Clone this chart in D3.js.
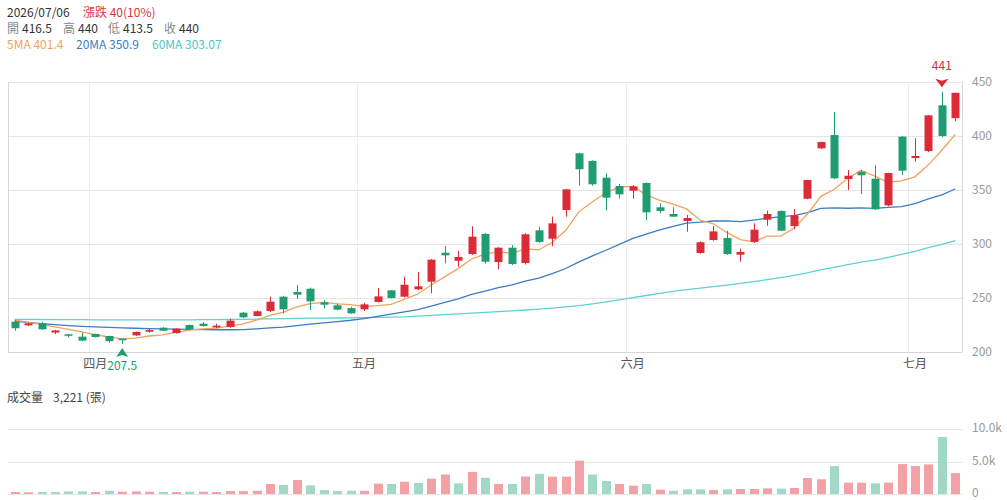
<!DOCTYPE html>
<html><head><meta charset="utf-8">
<script src="https://cdn.jsdelivr.net/npm/d3@7"></script>
<style>
body{margin:0;background:#fff;}
svg{display:block;font-family:"Noto Sans CJK TC","Noto Sans",sans-serif;}
</style>
</head><body>
<svg id="c" width="1007" height="500"></svg>
<script>
// ---------- data ----------
const dates = ["2026/03/24","2026/03/25","2026/03/26","2026/03/27","2026/03/30","2026/03/31",
"2026/04/01","2026/04/02","2026/04/07","2026/04/08","2026/04/09","2026/04/10","2026/04/13","2026/04/14","2026/04/15","2026/04/16","2026/04/17","2026/04/20","2026/04/21","2026/04/22","2026/04/23","2026/04/24","2026/04/27","2026/04/28","2026/04/29","2026/04/30",
"2026/05/04","2026/05/05","2026/05/06","2026/05/07","2026/05/08","2026/05/11","2026/05/12","2026/05/13","2026/05/14","2026/05/15","2026/05/18","2026/05/19","2026/05/20","2026/05/21","2026/05/22","2026/05/25","2026/05/26","2026/05/27","2026/05/28","2026/05/29",
"2026/06/01","2026/06/02","2026/06/03","2026/06/04","2026/06/05","2026/06/08","2026/06/09","2026/06/10","2026/06/11","2026/06/12","2026/06/15","2026/06/16","2026/06/17","2026/06/18","2026/06/22","2026/06/23","2026/06/24","2026/06/25","2026/06/26","2026/06/29","2026/06/30",
"2026/07/01","2026/07/02","2026/07/03","2026/07/06"];
const monthNames = {"04":"四月","05":"五月","06":"六月","07":"七月"};

const open  = [228,224.7,226.6,218,216.4,214.2,216.7,214.8,212.3,215.4,218.8,222.5,217.6,225,226.2,222.8,223.1,236.4,233.3,238,251.2,255.6,258.6,246,243.2,240.7,239.5,246.3,257.1,251.2,258,265.1,291.9,284.5,290.7,309.3,283.3,296.6,282.4,312.7,304.9,331.5,384,376.9,361.4,353.7,349.4,356.5,334,327.8,321.3,291.7,303.7,305.6,290.1,301.9,322.5,330.6,316.7,341.9,388.6,400.9,360.2,366.9,360.5,335.8,399.4,379.6,386.1,428.4,416.5];
const high  = [229.6,227,228,220.5,216.6,218,217,215,212.5,219,221.5,223,222,225.5,227.8,226.2,230.9,237,238.5,251.2,252,262,259.6,248.1,244.7,242,245.7,259.3,257.5,269.7,274.1,286,298.1,293.5,316.4,310,297,299,310,316,325.3,351,384.5,377.5,365.4,355.6,354.5,357,337.7,334,326.9,302.5,316.7,312.3,295.7,319.1,330.9,331,332.4,359.5,394.8,422.2,368.5,368.5,372.8,366,400,398.1,419.5,441,440];
const low   = [219.7,224,220.5,216.4,213.3,210,213.5,208.6,207.5,215,217.9,219.5,217,220.5,223.5,222,222.5,231.5,233,237,235.8,249.4,238.9,240.4,238.5,235.5,238,246,249.5,250.5,257.5,254.3,282.1,279,290,282,276.6,280.5,281,301,298.1,325.3,354,354,331.2,342,341.9,322.2,328.4,325,311.4,291,303,290,283.6,301,316.9,312,313.6,341.5,388,360,350,346.3,331.5,335,363.9,376.2,385,399,413.5];
const close = [222,226.6,221,220,215.2,210.5,213.9,210,211,218.5,220.4,219.7,221.6,221,224.1,224.4,229,232.1,237.7,246.6,239.5,253.1,246.9,243.8,239.2,235.8,244.1,251.5,250,262.3,260.8,285.5,289.5,288,306.8,283.6,296.6,281.5,309,301.9,319.1,350.6,369.2,355.3,342.9,346,353.4,329.3,330.6,325.3,324.1,301.6,311.7,290.7,292.6,313.3,327.8,312.3,326.5,359.3,394.4,360.8,363.2,363.6,332.1,365.7,367.9,381.5,419.1,400,440];
const volume = [300,270,300,300,400,400,300,500,350,400,350,300,300,350,350,300,450,450,500,1540,1380,2150,1330,600,450,500,500,1600,1540,1900,1700,2360,3000,1640,3400,2500,1540,1540,2700,3100,2670,2670,5130,3000,2000,1540,1280,1540,670,500,720,720,620,720,770,770,870,820,920,2460,2260,4300,1740,1740,1640,1740,4600,4300,4560,8770,3221];
const prevClose0 = 220;

const ma5  = [229.5,227.5,225.5,223.3,221.0,218.7,216.1,213.9,212.1,212.8,214.8,215.9,218.2,220.2,221.4,222.2,224.0,226.1,229.5,234.0,237.0,241.8,244.8,246.0,244.5,243.8,242.0,242.9,244.1,248.7,253.7,262.0,269.6,277.2,286.1,290.7,292.9,291.3,295.5,294.5,301.6,312.4,330.0,339.2,347.4,352.8,353.4,345.4,340.4,336.9,332.5,322.2,318.7,310.7,304.1,302.0,307.2,307.3,314.5,327.8,344.1,350.7,360.8,368.3,362.8,357.1,358.5,362.2,373.3,386.8,401.4];
const ma20 = [228.5,227.3,226.2,225.3,224.5,223.8,223.3,222.8,222.4,222.0,221.7,221.4,221.1,220.9,220.7,220.6,220.6,220.8,221.4,222.3,223.1,224.5,225.8,227.0,228.2,229.4,230.9,233.0,235.0,237.1,239.2,242.5,245.9,249.2,253.3,256.3,259.7,262.1,265.7,268.5,272.5,277.3,283.4,289.0,294.2,299.7,305.2,309.1,313.1,316.3,319.4,320.2,321.3,321.5,320.8,322.2,323.8,325.3,326.2,329.1,332.9,333.4,333.1,333.5,332.9,333.9,334.6,337.3,341.7,345.4,350.9];
const ma60 = [230.3,230.2,230.1,230.0,229.9,229.9,229.8,229.8,229.7,229.7,229.7,229.7,229.8,229.8,229.9,230.0,230.1,230.3,230.5,230.7,230.9,231.1,231.3,231.4,231.5,231.6,231.8,232.0,232.3,232.6,233.3,234.0,234.6,235.3,236.0,236.7,237.4,238.1,238.9,239.7,240.7,241.8,243.0,244.6,246.4,248.3,250.3,252.3,254.3,256.2,257.8,259.2,260.6,262.0,263.5,265.2,267.0,268.9,271.0,273.3,276.2,278.4,280.8,283.2,285.1,287.7,290.3,293.1,296.6,299.6,303.07];

const priceTicks = [200,250,300,350,400,450];
const volTicks = [0,5000,10000];
const volTickLabels = ["0","5.0k","10.0k"];

// ---------- layout ----------
const C = {
  up:"#dc2b36", down:"#1f9c70", upVol:"#f2a2a7", downVol:"#a1d9c6",
  ma5:"#f0a35c", ma20:"#3b7cc4", ma60:"#5fd0d3",
  grid:"#e6e6e6", axis:"#d6d6d6", label:"#9a9a9a", text:"#333", sub:"#888"
};
const L = 8, R = 962;
const svg = d3.select("#c");
const n = dates.length;
const idx = d3.range(n);
const x = d3.scaleBand().domain(idx).range([L, R]);
const bw = x.bandwidth();
const cx = i => x(i) + bw/2;
const y = d3.scaleLinear().domain([200,450]).range([352,82]);
const yv = d3.scaleLinear().domain([0,10000]).range([494,429]);

// grid - price
const g = svg.append("g");
g.selectAll("line.h").data(priceTicks).join("line")
  .attr("x1",L).attr("x2",R).attr("y1",d=>Math.round(y(d))+0.5).attr("y2",d=>Math.round(y(d))+0.5)
  .attr("stroke",d=>d===200?C.axis:C.grid).attr("stroke-width",1);
// month boundaries
const monthStarts = idx.filter(i => i>0 && dates[i].slice(5,7)!==dates[i-1].slice(5,7));
g.selectAll("line.v").data(monthStarts).join("line")
  .attr("x1",i=>Math.round(x(i))+0.5).attr("x2",i=>Math.round(x(i))+0.5)
  .attr("y1",y(450)).attr("y2",y(200)).attr("stroke","#ececec");
// frame sides
[L,R].forEach(px=>g.append("line").attr("x1",px+0.5).attr("x2",px+0.5).attr("y1",y(450)).attr("y2",y(200)).attr("stroke",C.axis));

// y labels
svg.append("g").selectAll("text").data(priceTicks).join("text")
  .attr("x",972).attr("y",d=>y(d)).attr("dy","0.35em")
  .attr("font-size",12).attr("fill",C.label).text(d=>d);

// month labels
svg.append("g").selectAll("text").data(monthStarts).join("text")
  .attr("x",i=>cx(i)).attr("y",368).attr("text-anchor","middle")
  .attr("font-size",12).attr("fill","#555").text(i=>monthNames[dates[i].slice(5,7)]);

// MA lines
const line = arr => d3.line().x((d,i)=>cx(i)).y(d=>y(d))(arr);
[[ma60,C.ma60],[ma20,C.ma20],[ma5,C.ma5]].forEach(([arr,col])=>{
  svg.append("path").attr("d",line(arr)).attr("fill","none").attr("stroke",col).attr("stroke-width",1.3);
});

// candles
const cg = svg.append("g");
idx.forEach(i=>{
  const up = close[i] >= open[i];
  const col = up ? C.up : C.down;
  const xc = Math.round(cx(i)) + 0.5;
  cg.append("line").attr("x1",xc).attr("x2",xc).attr("y1",y(high[i])).attr("y2",y(low[i])).attr("stroke",col).attr("stroke-width",1);
  const top = y(Math.max(open[i],close[i])), bot = y(Math.min(open[i],close[i]));
  cg.append("rect").attr("x",xc-4).attr("width",8).attr("y",top).attr("height",Math.max(1.5,bot-top)).attr("fill",col);
});

// min / max markers
const iMin = d3.minIndex(low), iMax = d3.maxIndex(high);
{
  const xm = cx(iMin), ym = y(low[iMin]);
  svg.append("path").attr("d",`M${xm},${ym+4}L${xm+6},${ym+13}L${xm},${ym+11}L${xm-6},${ym+13}Z`).attr("fill",C.down);
  svg.append("text").attr("x",xm).attr("y",ym+26).attr("text-anchor","middle").attr("font-size",12).attr("fill",C.down).text(low[iMin]);
  const xM = cx(iMax), yM = y(high[iMax]);
  svg.append("path").attr("d",`M${xM},${yM-4.5}L${xM+6.5},${yM-13}L${xM},${yM-11}L${xM-6.5},${yM-13}Z`).attr("fill",C.up);
  svg.append("text").attr("x",xM).attr("y",yM-21.5).attr("text-anchor","middle").attr("font-size",12).attr("fill",C.up).text(high[iMax]);
}

// volume grid
svg.append("g").selectAll("line").data(volTicks).join("line")
  .attr("x1",L).attr("x2",R).attr("y1",d=>Math.round(yv(d))+0.5).attr("y2",d=>Math.round(yv(d))+0.5)
  .attr("stroke","#e3e8e8");
svg.append("g").selectAll("text").data(volTicks).join("text")
  .attr("x",972).attr("y",d=>yv(d)-1).attr("dy","0.35em").attr("font-size",12).attr("fill",C.label)
  .text((d,i)=>volTickLabels[i]);
// volume bars
svg.append("g").selectAll("rect").data(idx).join("rect")
  .attr("x",i=>Math.round(cx(i))+0.5-4.5).attr("width",9)
  .attr("y",i=>yv(volume[i])).attr("height",i=>yv(0)-yv(volume[i]))
  .attr("fill",i=>{const pc = i===0?prevClose0:close[i-1]; return close[i]>=pc?C.upVol:C.downVol;});

// ---------- header ----------
const last = n-1;
const chg = close[last]-close[last-1];
const pct = chg/close[last-1];
const fmt = v => String(+v.toFixed(2));
const hdr = svg.append("g").attr("font-size",12);
const t = (xx,yy,txt,col)=>hdr.append("text").attr("x",xx).attr("y",yy).attr("fill",col).text(txt);
t(7,17,dates[last],C.text);
t(83,17,`漲跌 ${fmt(chg)}(${d3.format(".0%")(pct)})`,"#d9363e");
t(7,33,"開",C.sub); t(22,33,fmt(open[last]),C.text);
t(63,33,"高",C.sub); t(78,33,fmt(high[last]),C.text);
t(108,33,"低",C.sub); t(123,33,fmt(low[last]),C.text);
t(164,33,"收",C.sub); t(179,33,fmt(close[last]),C.text);
t(7,49,`5MA ${fmt(ma5[last])}`,C.ma5);
t(76,49,`20MA ${fmt(ma20[last])}`,C.ma20);
t(152,49,`60MA ${fmt(ma60[last])}`,"#4cc6c8");
// volume title
t(7,402,"成交量","#444");
t(53,402,`${d3.format(",")(volume[last])} (張)`,"#444");
</script>
</body></html>
